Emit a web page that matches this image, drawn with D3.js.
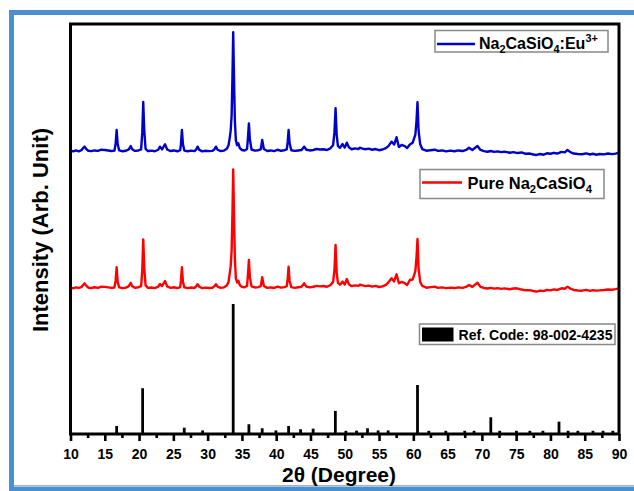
<!DOCTYPE html>
<html>
<head>
<meta charset="utf-8">
<script src="https://cdn.jsdelivr.net/npm/d3@7"></script>
<style>
  body { margin: 0; background: #fff; }
  text { font-family: "Liberation Sans", Arial, sans-serif; font-weight: bold; }
</style>
</head>
<body>
<div id="chart"></div>
<script>
// XRD patterns: [2theta, intensity (arb.)]
const euPattern = [
  [10.0,20.5],[10.4,19.8],[10.8,20.6],[11.2,19.9],[11.6,20.8],[11.9,23.0],[12.05,23.8],[12.25,22.2],[12.6,20.3],
  [13.0,20.0],[13.5,20.6],[14.0,20.2],[14.5,21.2],[15.0,21.0],[15.5,20.6],[16.0,20.1],[16.4,20.4],[16.58,26],
  [16.73,37.8],[16.88,26],[17.1,20.6],[17.6,19.9],[18.1,20.3],[18.5,21.5],[18.78,24.3],[19.0,21.6],[19.4,20.2],
  [19.9,20.6],[20.3,21.5],[20.47,36],[20.61,61.4],[20.76,37],[20.95,22],[21.3,20.1],[21.8,20.4],[22.3,19.9],
  [22.8,21.2],[23.05,23.8],[23.35,21.5],[23.78,25.8],[24.1,21.4],[24.6,20.1],[25.1,20.6],[25.6,19.9],[26.0,20.8],
  [26.11,26],[26.25,37.8],[26.4,26],[26.6,20.5],[27.1,19.9],[27.6,20.4],[28.1,20.0],[28.35,21.6],[28.54,23.8],
  [28.75,21.3],[29.2,19.8],[29.7,20.3],[30.2,20.0],[30.7,20.2],[31.0,21.6],[31.21,23.8],[31.45,21.2],[31.9,20.1],
  [32.4,20.5],[32.8,22],[33.05,25],[33.22,31],[33.36,37],[33.5,50],[33.62,82],[33.73,120],[33.85,82],[33.97,46],
  [34.12,29],[34.3,25],[34.48,26.6],[34.7,22.5],[35.0,21.0],[35.4,20.6],[35.75,21.8],[35.88,31],[36.02,43.4],
  [36.16,30],[36.4,21.4],[36.9,20.4],[37.4,20.8],[37.75,21.5],[37.96,29.4],[38.2,21.8],[38.7,20.1],[39.2,20.6],
  [39.7,20.0],[40.2,21.2],[40.7,20.3],[41.2,20.8],[41.55,21.5],[41.68,28],[41.81,37.8],[41.95,27],[42.2,20.8],
  [42.7,20.2],[43.2,20.6],[43.7,21.0],[44.08,23.8],[44.4,21.2],[44.9,20.6],[45.4,21.0],[45.9,21.8],[46.4,21.4],
  [46.9,21.6],[47.4,21.0],[47.9,22.4],[48.3,25],[48.5,36],[48.66,56.1],[48.82,34],[49.0,24.5],[49.3,22.8],
  [49.68,26],[50.0,23.0],[50.3,27.1],[50.6,23.2],[51.0,21.6],[51.5,22.3],[52.0,21.8],[52.2,22.9],[52.6,22.2],
  [53.0,21.6],[53.5,22.1],[54.0,21.2],[54.5,21.8],[55.0,20.8],[55.5,21.4],[56.0,22.6],[56.4,24.5],[56.82,28],
  [57.2,25.6],[57.55,31.7],[57.9,23.5],[58.3,25.2],[58.76,24.2],[59.1,22.6],[59.5,25.6],[59.9,27],[60.3,34],
  [60.47,46],[60.61,61.1],[60.77,37],[61.0,26],[61.3,21.8],[61.9,20.4],[62.5,20.8],[63.13,21.2],[63.6,20.2],
  [64.2,20.6],[64.8,19.8],[65.4,20.4],[66.0,19.9],[66.6,20.6],[67.2,20.1],[67.7,21.0],[68.13,22.9],[68.6,21.0],
  [69.36,24.3],[69.8,21.0],[70.3,20.0],[70.8,19.5],[71.3,20.1],[71.8,19.4],[72.3,19.8],[72.8,19.2],[73.3,19.6],
  [74.07,18.7],[74.6,19.2],[75.2,18.4],[75.8,18.9],[76.4,17.8],[77.0,18.0],[77.5,17.2],[77.96,16.8],[78.5,17.6],
  [79.0,17.0],[79.5,18.2],[80.0,17.8],[80.5,18.6],[81.0,18.0],[81.6,19.4],[82.1,19.0],[82.48,21.0],[82.9,19.2],
  [83.4,18.0],[84.0,17.6],[84.6,17.4],[85.2,18.1],[85.8,17.2],[86.2,17.8],[86.7,17.0],[87.2,17.6],[87.8,17.3],
  [88.4,18.0],[89.0,17.5],[89.5,17.9],[90.0,18.7]
];

const purePattern = [
  [10.0,20.2],[10.4,19.6],[10.8,20.4],[11.2,20.0],[11.6,20.6],[11.9,22.8],[12.05,23.8],[12.25,22.0],[12.6,20.1],
  [13.0,19.8],[13.5,20.5],[14.0,20.0],[14.5,21.0],[15.0,20.8],[15.5,20.4],[16.0,20.0],[16.4,20.3],[16.58,26],
  [16.73,37.3],[16.88,25],[17.1,20.4],[17.6,19.8],[18.1,20.2],[18.5,21.4],[18.78,24.3],[19.0,21.4],[19.4,20.0],
  [19.9,20.5],[20.3,21.4],[20.47,35],[20.61,60.8],[20.76,36],[20.95,22],[21.3,20.0],[21.8,20.3],[22.3,19.8],
  [22.8,21.0],[23.05,23.2],[23.35,21.4],[23.78,25.7],[24.1,21.2],[24.6,20.0],[25.1,20.5],[25.6,19.8],[26.0,20.6],
  [26.11,26],[26.25,37.3],[26.4,25],[26.6,20.4],[27.1,19.8],[27.6,20.3],[28.1,19.9],[28.35,21.4],[28.54,23.0],
  [28.75,21.1],[29.2,19.7],[29.7,20.2],[30.2,19.9],[30.7,20.1],[31.0,21.4],[31.21,23.0],[31.45,21.0],[31.9,20.0],
  [32.4,20.4],[32.8,22],[33.05,25],[33.22,32],[33.36,38],[33.5,51],[33.62,82],[33.73,119.7],[33.85,81],[33.97,45],
  [34.12,28],[34.3,24.5],[34.48,26],[34.7,22.2],[35.0,20.8],[35.4,20.5],[35.75,21.6],[35.88,31],[36.02,43.4],
  [36.16,29],[36.4,21.2],[36.9,20.3],[37.4,20.6],[37.75,21.4],[37.96,28.9],[38.2,21.6],[38.7,20.0],[39.2,20.4],
  [39.7,19.9],[40.2,21.0],[40.7,20.2],[41.2,20.6],[41.55,21.4],[41.68,28],[41.81,37.8],[41.95,26],[42.2,20.6],
  [42.7,20.0],[43.2,20.5],[43.7,20.9],[44.08,23.8],[44.4,21.0],[44.9,20.4],[45.4,20.9],[45.9,21.6],[46.4,21.2],
  [46.9,21.5],[47.4,20.9],[47.9,22.2],[48.3,25],[48.5,35],[48.66,56.0],[48.82,33],[49.0,24.2],[49.3,22.6],
  [49.68,25.2],[50.0,22.8],[50.3,27.4],[50.6,23.0],[51.0,21.4],[51.5,22.1],[52.0,21.6],[52.2,22.6],[52.6,22.0],
  [53.0,21.4],[53.5,21.9],[54.0,21.0],[54.5,21.6],[55.0,20.7],[55.5,21.2],[56.0,22.4],[56.4,24.8],[56.82,28],
  [57.2,25.4],[57.55,31.4],[57.9,23.8],[58.3,25.0],[58.76,24.0],[59.1,22.4],[59.5,26.6],[59.9,27],[60.3,34],
  [60.47,46],[60.61,61.1],[60.77,36],[61.0,25],[61.3,21.6],[61.92,20.1],[62.5,20.6],[63.13,21.0],[63.6,20.0],
  [64.2,20.4],[64.8,19.7],[65.4,20.2],[66.0,19.8],[66.6,20.4],[67.2,20.0],[67.7,20.8],[68.13,22.4],[68.6,20.8],
  [69.36,24.3],[69.8,20.8],[70.3,19.9],[70.8,19.4],[71.3,20.0],[71.8,19.3],[72.3,19.7],[72.8,19.1],[73.3,19.5],
  [74.07,18.8],[74.6,19.4],[75.04,19.6],[75.6,18.8],[76.4,17.9],[77.0,18.1],[77.5,17.3],[77.96,16.8],[78.5,17.7],
  [79.0,17.2],[79.5,18.3],[80.0,17.9],[80.5,18.7],[81.0,18.2],[81.6,19.6],[82.1,19.2],[82.48,21.0],[82.9,19.4],
  [83.4,18.2],[84.0,17.8],[84.6,17.6],[85.2,18.3],[85.8,17.4],[86.2,18.0],[86.7,17.6],[87.2,17.9],[87.8,18.2],
  [88.4,18.6],[89.0,18.4],[89.5,18.9],[90.0,19.6]
];

// reference pattern 98-002-4235 (stick positions and heights)
const refPos = [16.73, 20.52, 26.59, 29.27, 33.73, 36.02, 37.96, 39.96, 41.81, 43.56, 45.39, 48.63, 50.16, 51.72,
  53.32, 54.87, 56.33, 60.61, 62.26, 64.74, 67.5, 68.86, 71.3, 72.6, 75.04, 77.0, 78.9, 81.25, 82.57, 84.0,
  86.2, 87.67, 89.1];
const refInt = [6.7, 38.5, 5.3, 3.0, 109.4, 8.2, 4.8, 3.0, 6.7, 4.0, 4.5, 19.4, 2.7, 2.8, 4.8, 3.0, 3.0, 41.2,
  2.7, 2.7, 2.7, 2.7, 14.1, 2.7, 2.7, 2.7, 2.7, 10.4, 2.7, 2.7, 2.7, 2.7, 2.7];

// vertical stacking offsets of the two measured patterns
const offsets = { eu: 218, pure: 103 };

const majorTicks = d3.range(10, 91, 5);
const minorTicks = d3.range(12.5, 90, 5);

const W = 634, H = 491;
const plot = { left: 70.5, right: 619, top: 24, bottom: 434 };

const svg = d3.select('#chart').append('svg')
  .attr('width', W)
  .attr('height', H);

// window-like blue frame round the figure
svg.append('rect')
  .attr('x', 11.5).attr('y', 12.5)
  .attr('width', 700).attr('height', 476.5)
  .attr('fill', 'none')
  .attr('stroke', '#4a8fd0')
  .attr('stroke-width', 5);
svg.append('line')
  .attr('x1', 14).attr('x2', W).attr('y1', 485.5).attr('y2', 485.5)
  .attr('stroke', '#b0b0b0').attr('stroke-width', 1);

let x = d3.scaleLinear().domain([10, 90]).range([plot.left, plot.right]);
let y = d3.scaleLinear().domain([0, 345]).range([plot.bottom, plot.top]);

let line = d3.line()
  .x(d => x(d[0]));

// reference sticks
svg.selectAll('.stick')
  .data(refPos.map((p, i) => [p, refInt[i]]))
  .enter().append('line')
  .attr('class', 'stick')
  .attr('x1', d => x(d[0])).attr('x2', d => x(d[0]))
  .attr('y1', y(0)).attr('y2', d => y(d[1]))
  .attr('stroke', '#000')
  .attr('stroke-width', 2.8);

// measured patterns
svg.append('path')
  .datum(purePattern)
  .attr('d', line.y(d => y(d[1] + offsets.pure)))
  .attr('fill', 'none')
  .attr('stroke', '#ff0000')
  .attr('stroke-width', 2.4)
  .attr('stroke-linejoin', 'round');

svg.append('path')
  .datum(euPattern)
  .attr('d', line.y(d => y(d[1] + offsets.eu)))
  .attr('fill', 'none')
  .attr('stroke', '#0000cc')
  .attr('stroke-width', 2.4)
  .attr('stroke-linejoin', 'round');

// x axis: major and minor ticks
let gMinor = svg.append('g')
  .attr('transform', 'translate(0,' + plot.bottom + ')')
  .call(d3.axisBottom(x).tickValues(minorTicks).tickSize(4).tickFormat(''));
gMinor.select('.domain').remove();
gMinor.selectAll('line').attr('stroke-width', 2.6);

let gMajor = svg.append('g')
  .attr('transform', 'translate(0,' + plot.bottom + ')')
  .call(d3.axisBottom(x).tickValues(majorTicks).tickSize(7).tickPadding(8).tickFormat(d3.format('d')));
gMajor.select('.domain').remove();
gMajor.selectAll('line').attr('stroke-width', 2.6);
gMajor.selectAll('text')
  .attr('font-size', 14)
  .attr('font-family', '"Liberation Sans", Arial, sans-serif')
  .attr('font-weight', 'bold')
  .attr('fill', '#000');

// plot frame
svg.append('rect')
  .attr('x', plot.left).attr('y', plot.top)
  .attr('width', plot.right - plot.left).attr('height', plot.bottom - plot.top)
  .attr('fill', 'none')
  .attr('stroke', '#000')
  .attr('stroke-width', 3);

// axis titles
svg.append('text')
  .attr('x', 339).attr('y', 482)
  .attr('text-anchor', 'middle')
  .attr('font-size', 21)
  .text('2θ (Degree)');

svg.append('text')
  .attr('transform', 'translate(48,230) rotate(-90)')
  .attr('text-anchor', 'middle')
  .attr('font-size', 22)
  .text('Intensity (Arb. Unit)');

// legends
function legendText(g, tx, ty, parts, size) {
  let t = g.append('text').attr('x', tx).attr('y', ty).attr('font-size', size).attr('fill', '#000');
  parts.forEach(p => {
    let s = t.append('tspan').text(p[0]);
    if (p[1] === 'sub') s.attr('font-size', size * 0.68).attr('dy', 4);
    else if (p[1] === 'sup') s.attr('font-size', size * 0.68).attr('dy', -7);
    else if (p[1] === 'back') s.attr('dy', -4);
  });
  return t;
}

let lg = svg.append('g');
lg.append('rect').attr('x', 435).attr('y', 30.5).attr('width', 173).attr('height', 21.5)
  .attr('fill', '#fff').attr('stroke', '#888').attr('stroke-width', 1.5);
lg.append('line').attr('x1', 437).attr('x2', 475).attr('y1', 44).attr('y2', 44)
  .attr('stroke', '#0000cc').attr('stroke-width', 2.4);
legendText(lg, 479, 48.5, [['Na'], ['2', 'sub'], ['CaSiO', 'back'], ['4', 'sub'], [':Eu', 'back'], ['3+', 'sup']], 16);

lg.append('rect').attr('x', 420).attr('y', 169.5).attr('width', 184).attr('height', 29)
  .attr('fill', '#fff').attr('stroke', '#888').attr('stroke-width', 1.5);
lg.append('line').attr('x1', 422).attr('x2', 462).attr('y1', 182.5).attr('y2', 182.5)
  .attr('stroke', '#ff0000').attr('stroke-width', 2.4);
legendText(lg, 467.5, 188.5, [['Pure Na'], ['2', 'sub'], ['CaSiO', 'back'], ['4', 'sub']], 16.5);

lg.append('rect').attr('x', 419.5).attr('y', 324).attr('width', 195.5).attr('height', 20.5)
  .attr('fill', '#fff').attr('stroke', '#888').attr('stroke-width', 1.5);
lg.append('rect').attr('x', 422).attr('y', 327.5).attr('width', 31.5).attr('height', 14)
  .attr('fill', '#000');
lg.append('text').attr('x', 458.5).attr('y', 339.5).attr('font-size', 14.5)
  .attr('textLength', 154).attr('lengthAdjust', 'spacingAndGlyphs')
  .text('Ref. Code: 98-002-4235');
</script>
</body>
</html>
